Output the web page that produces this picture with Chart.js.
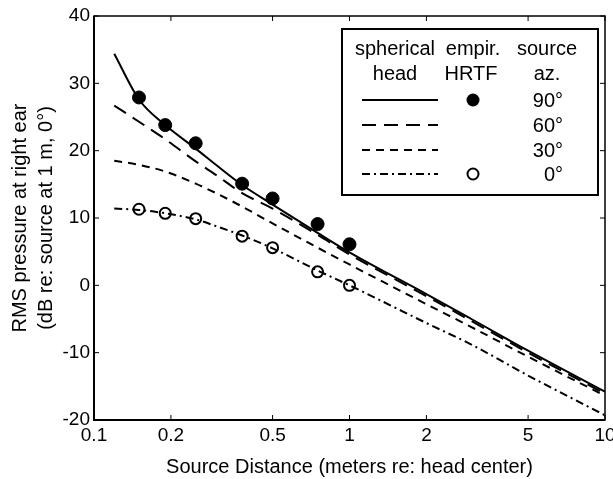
<!DOCTYPE html>
<html>
<head>
<meta charset="utf-8">
<script src="https://cdn.jsdelivr.net/npm/chart.js@4"></script>
<style>
  html, body { margin: 0; padding: 0; background: #fff; }
  #wrap { width: 613px; height: 479px; }
</style>
</head>
<body>
<div id="wrap"><canvas id="grafico"></canvas></div>
<script>
const curveDist = [0.12, 0.15, 0.19, 0.25, 0.3, 0.38, 0.5, 0.75, 1, 2, 3, 5, 10]
const head90 = [34.4, 27.6, 23.8, 20.3, 17.9, 14.9, 12.0, 7.8, 4.9, -1.3, -5.0, -9.7, -15.8]
const head60 = [26.7, 24.3, 21.7, 18.4, 16.4, 13.7, 11.4, 7.5, 4.6, -1.6, -5.3, -10.0, -16.1]
const head30 = [18.5, 17.9, 16.9, 15.1, 13.7, 11.7, 9.2, 5.6, 3.1, -2.8, -6.2, -10.6, -16.4]
const head0 = [11.4, 11.2, 10.7, 9.8, 8.8, 7.4, 5.5, 2.2, 0.0, -5.6, -8.8, -13.4, -19.3]

// empirical HRTF measurements
const hrtfDist = [0.15, 0.19, 0.25, 0.38, 0.5, 0.75, 1]
const hrtf90 = [27.9, 23.8, 21.1, 15.1, 12.9, 9.1, 6.1]
const hrtf0 = [11.3, 10.7, 9.9, 7.3, 5.6, 2.0, 0.0]

const xTicks = [0.1, 0.2, 0.5, 1, 2, 5, 10]
const yTicks = [-20, -10, 0, 10, 20, 30, 40]
const azLabels = ['90°', '60°', '30°', '0°']

const fuente = 'Liberation Sans, Arial, Helvetica, sans-serif'
const negro = '#000'

const pares = (xs, ys) => xs.map((x, i) => ({ x: x, y: ys[i] }))

const curva = (label, ys, dash) => ({
    label: label,
    data: pares(curveDist, ys),
    borderColor: negro,
    borderWidth: 2,
    borderDash: dash,
    pointRadius: 0,
    fill: false,
    cubicInterpolationMode: 'monotone'
})

const datasets = [
    curva('90', head90, []),
    curva('60', head60, [14, 8]),
    curva('30', head30, [8, 6]),
    curva('0', head0, [8, 4, 2, 4]),
    {
        label: 'HRTF 90',
        data: pares(hrtfDist, hrtf90),
        showLine: false,
        pointRadius: 6.5,
        pointBackgroundColor: negro,
        pointBorderColor: negro,
        pointBorderWidth: 1
    },
    {
        label: 'HRTF 0',
        data: pares(hrtfDist, hrtf0),
        showLine: false,
        pointRadius: 5.5,
        pointBackgroundColor: 'rgba(255,255,255,0)',
        pointBorderColor: negro,
        pointBorderWidth: 2
    }
]

// marco + marcas hacia adentro (estilo matlab)
const marcoPlugin = {
    id: 'marco',
    afterDraw(chart) {
        const { ctx, chartArea: a, scales } = chart
        ctx.save()
        ctx.strokeStyle = negro
        ctx.lineWidth = 1.5
        ctx.strokeRect(a.left, a.top, a.right - a.left, a.bottom - a.top)
        // izquierda y abajo un poco mas gruesas
        ctx.lineWidth = 2
        ctx.beginPath()
        ctx.moveTo(a.left, a.top); ctx.lineTo(a.left, a.bottom); ctx.lineTo(a.right, a.bottom)
        ctx.stroke()
        const largo = 5
        ctx.beginPath()
        xTicks.forEach(v => {
            const px = scales.x.getPixelForValue(v)
            ctx.moveTo(px, a.bottom); ctx.lineTo(px, a.bottom - largo)
            ctx.moveTo(px, a.top); ctx.lineTo(px, a.top + largo)
        })
        yTicks.forEach(v => {
            const py = scales.y.getPixelForValue(v)
            ctx.moveTo(a.left, py); ctx.lineTo(a.left + largo, py)
            ctx.moveTo(a.right, py); ctx.lineTo(a.right - largo, py)
        })
        ctx.lineWidth = 1
        ctx.stroke()
        ctx.restore()
    }
}

// leyenda en tabla de tres columnas
const leyendaPlugin = {
    id: 'leyenda',
    afterDraw(chart) {
        const ctx = chart.ctx
        const caja = { l: 342, t: 29, r: 598, b: 195 }
        ctx.save()
        ctx.fillStyle = '#fff'
        ctx.fillRect(caja.l, caja.t, caja.r - caja.l, caja.b - caja.t)
        ctx.strokeStyle = negro
        ctx.lineWidth = 2
        ctx.strokeRect(caja.l, caja.t, caja.r - caja.l, caja.b - caja.t)

        ctx.fillStyle = negro
        ctx.font = '20px ' + fuente
        ctx.textAlign = 'center'
        ctx.textBaseline = 'middle'
        ctx.fillText('spherical', 395, 49)
        ctx.fillText('head', 395, 74)
        ctx.fillText('empir.', 473, 49)
        ctx.fillText('HRTF', 471, 74)
        ctx.fillText('source', 547, 49)
        ctx.fillText('az.', 547, 74)

        const filas = [100, 125, 150, 174]
        const ds = chart.data.datasets
        filas.forEach((y, i) => {
            const d = ds[i]
            ctx.beginPath()
            ctx.setLineDash(d.borderDash)
            ctx.lineWidth = d.borderWidth
            ctx.moveTo(362, y)
            ctx.lineTo(438, y)
            ctx.stroke()
            ctx.setLineDash([])
            ctx.textAlign = 'right'
            ctx.fillText(azLabels[i], 563, y + 1)
        })
        // marcadores
        ctx.beginPath()
        ctx.arc(473, filas[0], ds[4].pointRadius, 0, Math.PI * 2)
        ctx.fill()
        ctx.beginPath()
        ctx.lineWidth = ds[5].pointBorderWidth
        ctx.arc(473, filas[3], ds[5].pointRadius, 0, Math.PI * 2)
        ctx.stroke()
        ctx.restore()
    }
}

const chart = new Chart(document.querySelector('#grafico'), {
    type: 'line',
    data: { datasets: datasets },
    options: {
        responsive: true,
        maintainAspectRatio: false,
        animation: false,
        devicePixelRatio: 1,
        layout: { padding: { top: 16, right: 8, left: 0, bottom: 0 } },
        plugins: {
            legend: { display: false },
            tooltip: { enabled: false }
        },
        scales: {
            x: {
                type: 'logarithmic',
                min: 0.1,
                max: 10,
                afterBuildTicks: s => { s.ticks = xTicks.map(v => ({ value: v })) },
                afterFit: s => { s.height = 59; s.paddingLeft = 0; s.paddingRight = 0 },
                grid: { display: false, drawTicks: false },
                border: { display: false },
                ticks: {
                    autoSkip: false,
                    maxRotation: 0,
                    padding: 4,
                    color: negro,
                    font: { family: fuente, size: 19 },
                    callback: v => String(v)
                },
                title: {
                    display: true,
                    text: 'Source Distance (meters re: head center)',
                    color: negro,
                    font: { family: fuente, size: 20, lineHeight: 1.2 },
                    padding: { top: 0, bottom: 0 }
                }
            },
            y: {
                min: -20,
                max: 40,
                afterBuildTicks: s => { s.ticks = yTicks.map(v => ({ value: v })) },
                afterFit: s => { s.width = 94; s.paddingTop = 0; s.paddingBottom = 0 },
                grid: { display: false, drawTicks: false },
                border: { display: false },
                ticks: {
                    padding: 4,
                    color: negro,
                    font: { family: fuente, size: 19 }
                },
                title: {
                    display: true,
                    text: ['RMS pressure at right ear', '(dB re: source at 1 m, 0°)'],
                    color: negro,
                    font: { family: fuente, size: 20, lineHeight: 1.3 },
                    padding: { top: 7, bottom: 0 }
                }
            }
        }
    },
    plugins: [marcoPlugin, leyendaPlugin]
})
</script>
</body>
</html>
